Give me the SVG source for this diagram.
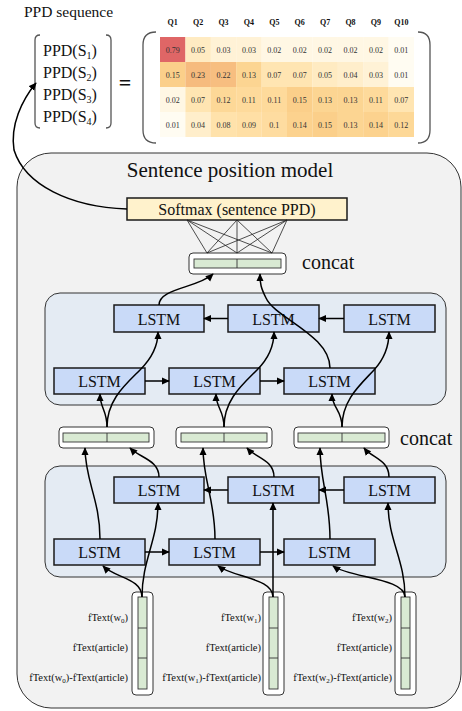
<svg xmlns="http://www.w3.org/2000/svg" width="462" height="711" viewBox="0 0 462 711" font-family="'Liberation Serif', 'DejaVu Serif', serif">
<defs>
<marker id="ah" viewBox="0 0 10 10" refX="9" refY="5" markerWidth="8" markerHeight="8" markerUnits="userSpaceOnUse" orient="auto">
<path d="M0,0.5 L10,5 L0,9.5 Z" fill="#000"/>
</marker>
<style>
text{fill:#111}
.lstm rect{fill:#c9daf8;stroke:#1a1a1a;stroke-width:1.5}
.lstm text{font-size:16px;text-anchor:middle}
.grp{fill:#e4ebf3;stroke:#333;stroke-width:1}
.cbox{fill:#fff;stroke:#333;stroke-width:1}
.bar{fill:#d9ead3;stroke:#333;stroke-width:0.9}
.c{stroke:#000;stroke-width:1.5;fill:none}
.ca{stroke:#000;stroke-width:1.5;fill:none;marker-end:url(#ah)}
.thin{stroke:#222;stroke-width:0.8;fill:none}
.cell text{font-size:8px;text-anchor:middle;fill:#333}
.hd{font-size:8px;font-weight:bold;text-anchor:middle}
.lab{font-size:10.5px;text-anchor:end}
.br{fill:none;stroke:#555;stroke-width:1.3}
</style>
</defs>
<rect width="462" height="711" fill="#fff"/>

<g id="ppd-sequence">
<text x="24" y="17" font-size="15.5">PPD sequence</text>
<path class="br" d="M40,35 Q35,35 35,40 V123 Q35,128 40,128"/>
<path class="br" d="M106,35 Q111,35 111,40 V123 Q111,128 106,128"/>
<text x="43" y="56" font-size="16">PPD(S<tspan font-size="10" dy="3">1</tspan><tspan dy="-3">)</tspan></text>
<text x="43" y="78" font-size="16">PPD(S<tspan font-size="10" dy="3">2</tspan><tspan dy="-3">)</tspan></text>
<text x="43" y="100" font-size="16">PPD(S<tspan font-size="10" dy="3">3</tspan><tspan dy="-3">)</tspan></text>
<text x="43" y="122" font-size="16">PPD(S<tspan font-size="10" dy="3">4</tspan><tspan dy="-3">)</tspan></text>
<text x="125" y="90" font-size="22" font-weight="bold" text-anchor="middle">=</text>
</g>

<g id="ppd-matrix">
<path class="br" d="M156,32 Q143,32 143,45 V130 Q143,143 156,143"/>
<path class="br" d="M418,32 Q430,32 430,45 V130 Q430,143 418,143"/>
<g>
<text class="hd" x="172.7" y="24.5">Q1</text>
<text class="hd" x="198.1" y="24.5">Q2</text>
<text class="hd" x="223.5" y="24.5">Q3</text>
<text class="hd" x="248.9" y="24.5">Q4</text>
<text class="hd" x="274.3" y="24.5">Q5</text>
<text class="hd" x="299.7" y="24.5">Q6</text>
<text class="hd" x="325.1" y="24.5">Q7</text>
<text class="hd" x="350.5" y="24.5">Q8</text>
<text class="hd" x="375.9" y="24.5">Q9</text>
<text class="hd" x="401.3" y="24.5">Q10</text>
</g>
<g class="cell">
<rect x="160" y="37" width="25.5" height="25" fill="#df6666"/><text x="172.7" y="52.5">0.79</text>
<rect x="185.4" y="37" width="25.5" height="25" fill="#ffebc2"/><text x="198.1" y="52.5">0.05</text>
<rect x="210.8" y="37" width="25.5" height="25" fill="#fff2d6"/><text x="223.5" y="52.5">0.03</text>
<rect x="236.2" y="37" width="25.5" height="25" fill="#fff2d6"/><text x="248.9" y="52.5">0.03</text>
<rect x="261.6" y="37" width="25.5" height="25" fill="#fff7e4"/><text x="274.3" y="52.5">0.02</text>
<rect x="287" y="37" width="25.5" height="25" fill="#fff7e4"/><text x="299.7" y="52.5">0.02</text>
<rect x="312.4" y="37" width="25.5" height="25" fill="#fff7e4"/><text x="325.1" y="52.5">0.02</text>
<rect x="337.8" y="37" width="25.5" height="25" fill="#fff7e4"/><text x="350.5" y="52.5">0.02</text>
<rect x="363.2" y="37" width="25.5" height="25" fill="#fff7e4"/><text x="375.9" y="52.5">0.02</text>
<rect x="388.6" y="37" width="25.4" height="25" fill="#fffcf2"/><text x="401.3" y="52.5">0.01</text>

<rect x="160" y="62" width="25.5" height="25" fill="#fbcf8a"/><text x="172.7" y="77.5">0.15</text>
<rect x="185.4" y="62" width="25.5" height="25" fill="#f6bb7e"/><text x="198.1" y="77.5">0.23</text>
<rect x="210.8" y="62" width="25.5" height="25" fill="#f7be80"/><text x="223.5" y="77.5">0.22</text>
<rect x="236.2" y="62" width="25.5" height="25" fill="#fcd592"/><text x="248.9" y="77.5">0.13</text>
<rect x="261.6" y="62" width="25.5" height="25" fill="#ffe5b2"/><text x="274.3" y="77.5">0.07</text>
<rect x="287" y="62" width="25.5" height="25" fill="#ffe5b2"/><text x="299.7" y="77.5">0.07</text>
<rect x="312.4" y="62" width="25.5" height="25" fill="#ffebc2"/><text x="325.1" y="77.5">0.05</text>
<rect x="337.8" y="62" width="25.5" height="25" fill="#ffeecb"/><text x="350.5" y="77.5">0.04</text>
<rect x="363.2" y="62" width="25.5" height="25" fill="#fff2d6"/><text x="375.9" y="77.5">0.03</text>
<rect x="388.6" y="62" width="25.4" height="25" fill="#fffcf2"/><text x="401.3" y="77.5">0.01</text>

<rect x="160" y="87" width="25.5" height="25" fill="#fff7e4"/><text x="172.7" y="102.5">0.02</text>
<rect x="185.4" y="87" width="25.5" height="25" fill="#ffe5b2"/><text x="198.1" y="102.5">0.07</text>
<rect x="210.8" y="87" width="25.5" height="25" fill="#fdd897"/><text x="223.5" y="102.5">0.12</text>
<rect x="236.2" y="87" width="25.5" height="25" fill="#feda9b"/><text x="248.9" y="102.5">0.11</text>
<rect x="261.6" y="87" width="25.5" height="25" fill="#feda9b"/><text x="274.3" y="102.5">0.11</text>
<rect x="287" y="87" width="25.5" height="25" fill="#fbcf8a"/><text x="299.7" y="102.5">0.15</text>
<rect x="312.4" y="87" width="25.5" height="25" fill="#fcd592"/><text x="325.1" y="102.5">0.13</text>
<rect x="337.8" y="87" width="25.5" height="25" fill="#fcd592"/><text x="350.5" y="102.5">0.13</text>
<rect x="363.2" y="87" width="25.5" height="25" fill="#feda9b"/><text x="375.9" y="102.5">0.11</text>
<rect x="388.6" y="87" width="25.4" height="25" fill="#ffe5b2"/><text x="401.3" y="102.5">0.07</text>

<rect x="160" y="112" width="25.5" height="25" fill="#fffcf2"/><text x="172.7" y="127.5">0.01</text>
<rect x="185.4" y="112" width="25.5" height="25" fill="#ffeecb"/><text x="198.1" y="127.5">0.04</text>
<rect x="210.8" y="112" width="25.5" height="25" fill="#ffe2ab"/><text x="223.5" y="127.5">0.08</text>
<rect x="236.2" y="112" width="25.5" height="25" fill="#ffdfa5"/><text x="248.9" y="127.5">0.09</text>
<rect x="261.6" y="112" width="25.5" height="25" fill="#fedca0"/><text x="274.3" y="127.5">0.1</text>
<rect x="287" y="112" width="25.5" height="25" fill="#fcd28e"/><text x="299.7" y="127.5">0.14</text>
<rect x="312.4" y="112" width="25.5" height="25" fill="#fbcf8a"/><text x="325.1" y="127.5">0.15</text>
<rect x="337.8" y="112" width="25.5" height="25" fill="#fcd592"/><text x="350.5" y="127.5">0.13</text>
<rect x="363.2" y="112" width="25.5" height="25" fill="#fcd28e"/><text x="375.9" y="127.5">0.14</text>
<rect x="388.6" y="112" width="25.4" height="25" fill="#fdd897"/><text x="401.3" y="127.5">0.12</text>
</g>
</g>

<g id="sentence-position-model">
<rect x="17" y="153" width="444" height="555" rx="34" fill="#f2f2f2" stroke="#333" stroke-width="1"/>
<text x="230" y="177" font-size="21" text-anchor="middle">Sentence position model</text>
</g>

<g id="softmax">
<rect x="127" y="198" width="220" height="22" fill="#fff2cc" stroke="#1a1a1a" stroke-width="1.5"/>
<text x="237" y="215" font-size="16" text-anchor="middle">Softmax (sentence PPD)</text>
</g>

<g id="concat-top">
<rect class="cbox" x="189" y="253" width="97" height="21" rx="4"/>
<rect class="bar" x="194" y="259" width="87" height="9"/>
<line x1="237" y1="259" x2="237" y2="268" stroke="#333" stroke-width="0.9"/>
<text x="302" y="269" font-size="20">concat</text>
</g>

<g id="upper-bilstm">
<rect class="grp" x="45" y="293" width="401" height="112" rx="15"/>
<g class="lstm" id="up-b1"><rect x="114" y="305" width="90" height="27"/><text x="159" y="324.5">LSTM</text></g>
<g class="lstm" id="up-b2"><rect x="228" y="305" width="91" height="27"/><text x="273.5" y="324.5">LSTM</text></g>
<g class="lstm" id="up-b3"><rect x="344" y="305" width="91" height="27"/><text x="389.5" y="324.5">LSTM</text></g>
<g class="lstm" id="up-f1"><rect x="54" y="368" width="91" height="26"/><text x="99.5" y="387">LSTM</text></g>
<g class="lstm" id="up-f2"><rect x="169" y="368" width="91" height="26"/><text x="214.5" y="387">LSTM</text></g>
<g class="lstm" id="up-f3"><rect x="284" y="368" width="91" height="26"/><text x="329.5" y="387">LSTM</text></g>
</g>

<g id="concat-mid">
<rect class="cbox" x="59" y="427" width="95" height="21" rx="4"/>
<rect class="bar" x="63" y="433" width="86" height="9"/>
<line x1="107" y1="433" x2="107" y2="442" stroke="#333" stroke-width="0.9"/>
<rect class="cbox" x="176" y="427" width="96" height="21" rx="4"/>
<rect class="bar" x="181" y="433" width="86" height="9"/>
<line x1="224" y1="433" x2="224" y2="442" stroke="#333" stroke-width="0.9"/>
<rect class="cbox" x="294" y="427" width="95" height="21" rx="4"/>
<rect class="bar" x="298" y="433" width="87" height="9"/>
<line x1="342" y1="433" x2="342" y2="442" stroke="#333" stroke-width="0.9"/>
<text x="400" y="445" font-size="20">concat</text>
</g>

<g id="lower-bilstm">
<rect class="grp" x="45" y="466" width="401" height="111" rx="15"/>
<g class="lstm" id="lo-b1"><rect x="114" y="477" width="90" height="26"/><text x="159" y="496">LSTM</text></g>
<g class="lstm" id="lo-b2"><rect x="228" y="477" width="91" height="26"/><text x="273.5" y="496">LSTM</text></g>
<g class="lstm" id="lo-b3"><rect x="344" y="477" width="91" height="26"/><text x="389.5" y="496">LSTM</text></g>
<g class="lstm" id="lo-f1"><rect x="54" y="539" width="91" height="26"/><text x="99.5" y="558">LSTM</text></g>
<g class="lstm" id="lo-f2"><rect x="169" y="539" width="91" height="26"/><text x="214.5" y="558">LSTM</text></g>
<g class="lstm" id="lo-f3"><rect x="284" y="539" width="91" height="26"/><text x="329.5" y="558">LSTM</text></g>
</g>

<g id="input-w0">
<rect class="cbox" x="132" y="592" width="21" height="103" rx="4"/>
<rect class="bar" x="138" y="597" width="9" height="92"/>
<line x1="138" y1="628" x2="147" y2="628" stroke="#333" stroke-width="0.9"/>
<line x1="138" y1="658" x2="147" y2="658" stroke="#333" stroke-width="0.9"/>
<text class="lab" x="128" y="621">fText(w<tspan font-size="7" dy="2">0</tspan><tspan dy="-2">)</tspan></text>
<text class="lab" x="128" y="651">fText(article)</text>
<text class="lab" x="128" y="681">fText(w<tspan font-size="7" dy="2">0</tspan><tspan dy="-2">)-fText(article)</tspan></text>
</g>
<g id="input-w1">
<rect class="cbox" x="263" y="592" width="21" height="103" rx="4"/>
<rect class="bar" x="269" y="597" width="9" height="92"/>
<line x1="269" y1="628" x2="278" y2="628" stroke="#333" stroke-width="0.9"/>
<line x1="269" y1="658" x2="278" y2="658" stroke="#333" stroke-width="0.9"/>
<text class="lab" x="261" y="621">fText(w<tspan font-size="7" dy="2">1</tspan><tspan dy="-2">)</tspan></text>
<text class="lab" x="261" y="651">fText(article)</text>
<text class="lab" x="261" y="681">fText(w<tspan font-size="7" dy="2">1</tspan><tspan dy="-2">)-fText(article)</tspan></text>
</g>
<g id="input-w2">
<rect class="cbox" x="395" y="592" width="21" height="103" rx="4"/>
<rect class="bar" x="401" y="597" width="9" height="92"/>
<line x1="401" y1="628" x2="410" y2="628" stroke="#333" stroke-width="0.9"/>
<line x1="401" y1="658" x2="410" y2="658" stroke="#333" stroke-width="0.9"/>
<text class="lab" x="392" y="621">fText(w<tspan font-size="7" dy="2">2</tspan><tspan dy="-2">)</tspan></text>
<text class="lab" x="392" y="651">fText(article)</text>
<text class="lab" x="392" y="681">fText(w<tspan font-size="7" dy="2">2</tspan><tspan dy="-2">)-fText(article)</tspan></text>
</g>

<g id="connectors">
<path class="ca" d="M127,209 C70,207 25,185 14,150 C10,125 22,100 36,83"/>
<g class="thin">
<line x1="187" y1="220" x2="207" y2="253"/><line x1="187" y1="220" x2="237" y2="253"/><line x1="187" y1="220" x2="272" y2="253"/>
<line x1="237" y1="220" x2="207" y2="253"/><line x1="237" y1="220" x2="237" y2="253"/><line x1="237" y1="220" x2="272" y2="253"/>
<line x1="287" y1="220" x2="207" y2="253"/><line x1="287" y1="220" x2="237" y2="253"/><line x1="287" y1="220" x2="272" y2="253"/>
</g>
<path class="ca" d="M159,305 C159,288 198,288 213,274"/>
<path class="ca" d="M330,368 C330,335 275,318 266,298 C261,288 260,284 260,274"/>
<path class="ca" d="M344,318.5 H319"/>
<path class="ca" d="M228,318.5 H204"/>
<path class="ca" d="M145,381 H169"/>
<path class="ca" d="M260,381 H284"/>
<path class="ca" d="M107,427 C107,410 100,408 100,394"/>
<path class="ca" d="M107,427 C107,400 125,385 140,370 C152,358 158,345 158,332"/>
<path class="ca" d="M224,427 C224,410 216,408 216,394"/>
<path class="ca" d="M224,427 C224,400 242,385 257,370 C269,358 274,345 274,332"/>
<path class="ca" d="M342,427 C342,410 332,408 332,394"/>
<path class="ca" d="M342,427 C342,400 360,385 374,370 C385,358 389,345 389,332"/>
<path class="ca" d="M100,539 C100,500 85,480 85,448"/>
<path class="ca" d="M159,477 C159,460 140,458 130,448"/>
<path class="ca" d="M215,539 C215,500 203,480 203,448"/>
<path class="ca" d="M274,477 C274,460 256,458 247,448"/>
<path class="ca" d="M330,539 C330,500 320,480 320,448"/>
<path class="ca" d="M389,477 C389,460 372,458 364,448"/>
<path class="ca" d="M344,490 H319"/>
<path class="ca" d="M228,490 H204"/>
<path class="ca" d="M145,552 H169"/>
<path class="ca" d="M260,552 H284"/>
<path class="ca" d="M142,597 C142,578 115,578 103,566"/>
<path class="ca" d="M142,597 C142,560 158,540 158,503"/>
<path class="ca" d="M273,597 C273,578 235,578 218,566"/>
<path class="ca" d="M273,597 V503"/>
<path class="ca" d="M405,597 C405,578 350,578 333,566"/>
<path class="ca" d="M405,597 C405,560 388,540 388,503"/>
</g>
</svg>
